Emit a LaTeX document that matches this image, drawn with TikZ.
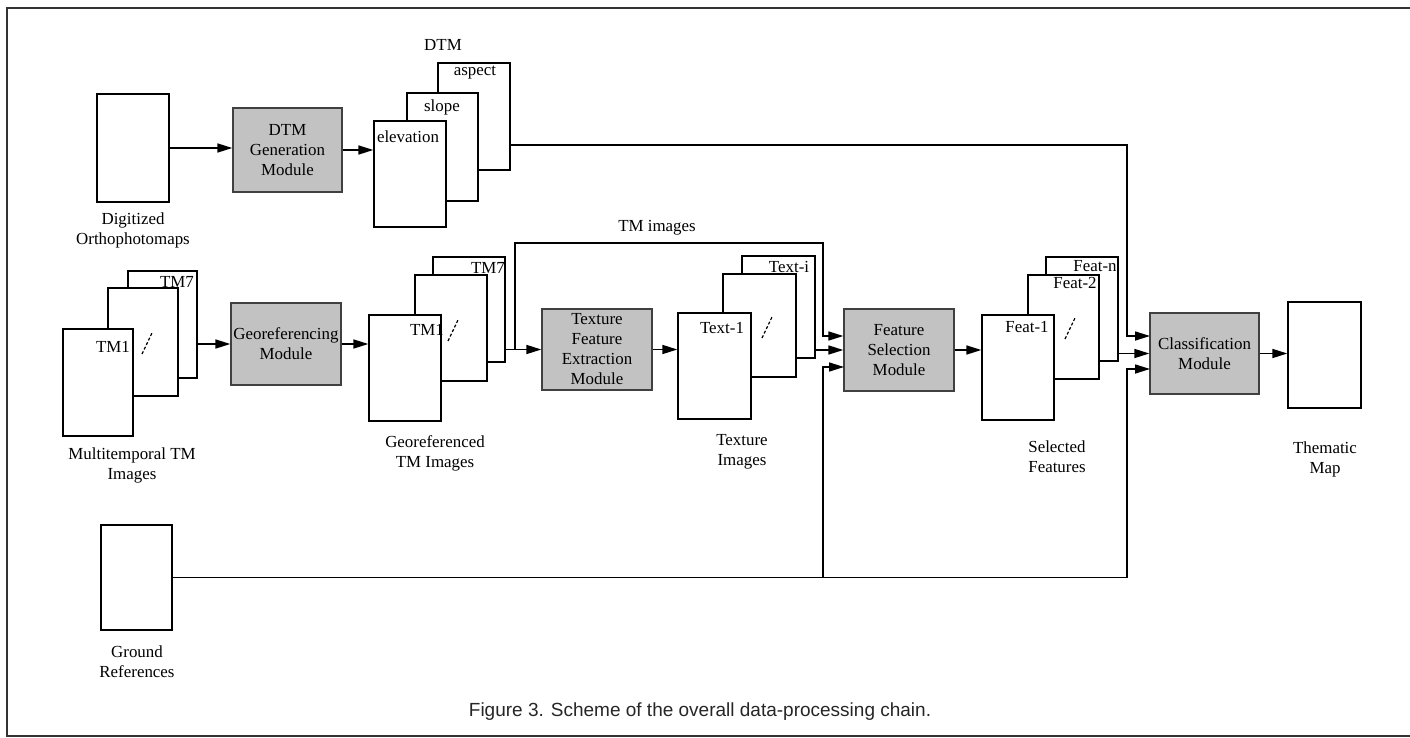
\documentclass[tikz,border=0pt]{standalone}
\usepackage{fontspec}
\setmainfont{Liberation Serif}
\newfontfamily\capfont{Liberation Sans}
\usetikzlibrary{arrows.meta,calc}
\begin{document}
\begin{tikzpicture}[x=1pt,y=-1pt,
  every node/.style={font=\fontsize{16.9}{20}\selectfont, inner sep=0pt},
  sheet/.style={draw, fill=white, line width=1.3pt},
  module/.style={draw=black!75, fill=black!24, line width=1.3pt, align=center},
  lbl/.style={align=center},
  conn/.style={line width=1.6pt},
  arr/.style={conn, -{Triangle[length=15pt,width=9pt]}},
  slashmark/.style={line width=1.2pt, dash pattern=on 3pt off 2pt},
  frameline/.style={line width=1.3pt, black!80}]
\useasboundingbox (0,0) rectangle (1410,738);
% frame
\draw[frameline] (1410,8) -- (7,8) -- (7,736) -- (1410,736);

% ---------- row 1 ----------
\node[sheet, minimum width=72pt, minimum height=108pt] (ortho) at (133,148) {};
\node[lbl] (orthoL) at (133,230) {Digitized\\Orthophotomaps};
\node[module, minimum width=109pt, minimum height=84pt] (dtmgen) at (287.5,150) {DTM\\Generation\\Module};
\node[sheet, minimum width=72pt, minimum height=107pt] (aspect) at (474,116.5) {};
\node[sheet, minimum width=71pt, minimum height=108pt] (slope) at (442.5,147) {};
\node[sheet, minimum width=72pt, minimum height=106pt] (elev) at (410,174) {};
\node (aspectT) at (475,73) {aspect};
\node (slopeT) at (442,107) {slope};
\node (elevT) at (408,137) {elevation};
\node (dtmL) at (443,45) {DTM};

% ---------- row 2 ----------
\node[sheet, minimum width=69pt, minimum height=107pt] (tmB) at (162.5,324.5) {};
\node[sheet, minimum width=70pt, minimum height=108pt] (tmM) at (143,342) {};
\node[sheet, minimum width=70pt, minimum height=107pt] (tmF) at (98,382.5) {};
\node (tm7a) at (177,282) {TM7};
\node (tm1a) at (113,347) {TM1};
\draw[slashmark] (142,354) -- (152,333);
\node[lbl] (tmL) at (132,465) {Multitemporal TM\\Images};

\node[module, minimum width=110pt, minimum height=82pt] (georef) at (286,344) {Georeferencing\\Module};

\node[sheet, minimum width=72pt, minimum height=105pt] (geoB) at (469,309.5) {};
\node[sheet, minimum width=72pt, minimum height=106pt] (geoM) at (451,328) {};
\node[sheet, minimum width=72pt, minimum height=106pt] (geoF) at (405,368) {};
\node (tm7b) at (488,268) {TM7};
\node (tm1b) at (427,330) {TM1};
\draw[slashmark] (448,341) -- (458,320);
\node[lbl] (geoL) at (435,453) {Georeferenced\\TM Images};

\node[module, minimum width=110pt, minimum height=81pt] (texbox) at (597,349.5) {Texture\\Feature\\Extraction\\Module};

\node[sheet, minimum width=73pt, minimum height=102pt] (txtB) at (778.5,307) {};
\node[sheet, minimum width=73pt, minimum height=103pt] (txtM) at (759.5,325.5) {};
\node[sheet, minimum width=73pt, minimum height=106pt] (txtF) at (714.5,366) {};
\node (txti) at (789,267) {Text-i};
\node (txt1) at (722,328) {Text-1};
\draw[slashmark] (762,338) -- (772,317);
\node[lbl] (txtL) at (742,452) {Texture\\Images};
\node (tmimgL) at (657,228) {TM images};

\node[module, minimum width=110pt, minimum height=82pt] (featsel) at (899,350) {Feature\\Selection\\Module};

\node[sheet, minimum width=72pt, minimum height=104pt] (featB) at (1082,309) {};
\node[sheet, minimum width=71pt, minimum height=104pt] (featM) at (1063.5,327) {};
\node[sheet, minimum width=72pt, minimum height=105pt] (featF) at (1018,367.5) {};
\node (featn) at (1095,266) {Feat-n};
\node (feat2) at (1075,283) {Feat-2};
\node (feat1) at (1027,327) {Feat-1};
\draw[slashmark] (1065,339) -- (1075,318);
\node[lbl] (featL) at (1057,457) {Selected\\Features};

\node[module, minimum width=109pt, minimum height=81pt] (classif) at (1204.5,353.5) {Classification\\Module};
\node[sheet, minimum width=73pt, minimum height=106pt] (them) at (1324.5,355) {};
\node[lbl] (themL) at (1325,459) {Thematic\\Map};

% ---------- row 3 ----------
\node[sheet, minimum width=71pt, minimum height=105pt] (ground) at (136.5,577.5) {};
\node[lbl] (groundL) at (137,662) {Ground\\References};

% caption
\node[font=\capfont\fontsize{19}{22}\selectfont, text=black!85] (cap) at (700,712) {Figure 3. Scheme of the overall data-processing chain.};

% ---------- junction coordinates ----------
\coordinate (aspOut) at (510,145);
\coordinate (jDTM) at (1127,336);
\coordinate (clsIn1) at (1150,336);
\coordinate (jTM) at (515,349.5);
\coordinate (tmTopL) at (515,243);
\coordinate (tmTopR) at (823,243);
\coordinate (jTM2) at (823,336);
\coordinate (gJ1) at (823,577.5);
\coordinate (gJ2) at (1127,577.5);
\coordinate (fsIn3) at (844,367);
\coordinate (clsIn3) at (1150,369);

% ---------- connectors ----------
\draw[arr] (ortho.east) -- (ortho.east -| dtmgen.west);
\draw[arr] (dtmgen.east) -- (dtmgen.east -| elev.west);
\draw[arr] (aspOut) -| (jDTM) -- (clsIn1);
\draw[arr] (tmB.east |- georef.west) -- (georef.west);
\draw[arr] (georef.east) -- (georef.east -| geoF.west);
\draw[arr] (geoB.east |- texbox.west) -- (texbox.west);
\draw[arr] (jTM) -- (tmTopL) -- (tmTopR) -- (jTM2) -- (jTM2 -| featsel.west);
\draw[arr] (texbox.east) -- (texbox.east -| txtF.west);
\draw[arr] (txtB.east |- featsel.west) -- (featsel.west);
\draw[arr] (featsel.east) -- (featsel.east -| featF.west);
\draw[arr] (featB.east |- classif.west) -- (classif.west);
\draw[arr] (classif.east) -- (classif.east -| them.west);
\draw[conn] (ground.east) -- (gJ2);
\draw[arr] (gJ1) -- (gJ1 |- fsIn3) -- (fsIn3);
\draw[arr] (gJ2) -- (gJ2 |- clsIn3) -- (clsIn3);
\end{tikzpicture}
\end{document}
